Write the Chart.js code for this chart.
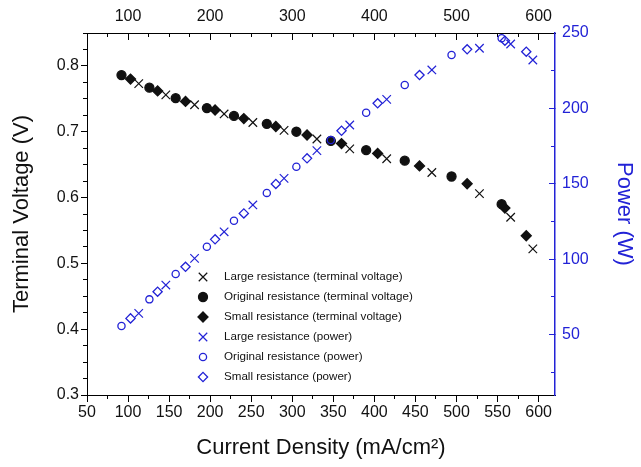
<!DOCTYPE html>
<html>
<head>
<meta charset="utf-8">
<script src="https://cdn.jsdelivr.net/npm/chart.js@4.4.1/dist/chart.umd.min.js"></script>
<style>
  html, body { margin: 0; padding: 0; background: #fff; }
  #wrap { width: 641px; height: 467px; }
</style>
</head>
<body>
<div id="wrap"><canvas id="fuelCellChart" width="641" height="467"></canvas></div>
<script>
// current density (mA/cm2), terminal voltage (V) and power (W) per load setting
const largeCurrent = [113, 146, 181, 217, 252, 290, 330, 370, 415, 470, 528, 566, 593];
const largeVoltage = [0.773, 0.756, 0.741, 0.727, 0.714, 0.702, 0.689, 0.674, 0.659, 0.638, 0.606, 0.570, 0.522];
const largePower = [64.1, 82.9, 100.6, 118.2, 136.0, 153.6, 172.0, 189.0, 206.0, 225.5, 239.9, 242.7, 232.1];

const originalCurrent = [92, 126, 158, 196, 229, 269, 305, 347, 390, 437, 494, 555];
const originalVoltage = [0.786, 0.767, 0.751, 0.736, 0.724, 0.712, 0.700, 0.686, 0.672, 0.656, 0.632, 0.590];
const originalPower = [55.7, 73.4, 90.2, 108.3, 125.5, 144.0, 161.3, 179.0, 197.1, 215.5, 235.4, 246.5];

const smallCurrent = [103, 136, 170, 206, 241, 280, 318, 360, 404, 455, 513, 559, 585];
const smallVoltage = [0.780, 0.762, 0.746, 0.733, 0.720, 0.708, 0.695, 0.682, 0.667, 0.648, 0.621, 0.584, 0.542];
const smallPower = [60.8, 78.5, 95.0, 113.2, 130.4, 149.9, 166.9, 185.2, 203.4, 222.1, 239.2, 244.9, 237.6];

const BLACK = '#111111';
const BLUE = '#2222d6';
const FONT = '"Liberation Sans", Arial, Helvetica, sans-serif';

function toPoints(xs, ys) {
    return xs.map((x, i) => ({x: x, y: ys[i]}));
}

function series(label, xs, ys, axis, style, color, filled, radius, order) {
    return {
        label: label,
        data: toPoints(xs, ys),
        yAxisID: axis,
        order: order,
        pointStyle: style,
        pointRadius: radius,
        pointHoverRadius: radius,
        pointBorderColor: color,
        pointBackgroundColor: filled ? color : 'rgba(0,0,0,0)',
        pointBorderWidth: style === 'crossRot' ? 1.2 : 1.3
    };
}

// minor tick marks: a second scale with no labels and zero size
function minorAxis(position, min, max, step, color, tickLength) {
    const horizontal = position === 'top' || position === 'bottom';
    return {
        type: 'linear', position: position, min: min, max: max, weight: 0,
        ticks: {display: false, stepSize: step, includeBounds: false},
        grid: {drawOnChartArea: false, color: color, tickLength: tickLength},
        border: {display: false},
        afterFit: scale => { if (horizontal) scale.height = 0; else scale.width = 0; }
    };
}

function tickFont() {
    return {family: FONT, size: 16};
}

function titleFont() {
    return {family: FONT, size: 22};
}

const insideLegend = {
    id: 'insideLegend',
    afterDraw(chart) {
        const {ctx, chartArea} = chart;
        const x0 = chartArea.left + 116;
        const y0 = chartArea.top + 244;
        ctx.save();
        ctx.font = '11.6px ' + FONT;
        ctx.textBaseline = 'middle';
        chart.data.datasets.forEach((ds, i) => {
            const y = y0 + i * 20;
            ctx.fillStyle = ds.pointBackgroundColor;
            ctx.strokeStyle = ds.pointBorderColor;
            ctx.lineWidth = ds.pointBorderWidth;
            Chart.helpers.drawPoint(ctx, {pointStyle: ds.pointStyle, radius: ds.pointRadius, borderWidth: ds.pointBorderWidth, rotation: 0}, x0, y);
            ctx.fillStyle = BLACK;
            ctx.fillText(ds.label, x0 + 21, y);
        });
        ctx.restore();
    }
};

const ctx = document.getElementById('fuelCellChart').getContext('2d');
new Chart(ctx, {
    type: 'scatter',
    data: {
        datasets: [
            series('Large resistance (terminal voltage)', largeCurrent, largeVoltage, 'y', 'crossRot', BLACK, false, 6, 1),
            series('Original resistance (terminal voltage)', originalCurrent, originalVoltage, 'y', 'circle', BLACK, true, 4.5, 1),
            series('Small resistance (terminal voltage)', smallCurrent, smallVoltage, 'y', 'rectRot', BLACK, true, 5, 1),
            series('Large resistance (power)', largeCurrent, largePower, 'y2', 'crossRot', BLUE, false, 6, 0),
            series('Original resistance (power)', originalCurrent, originalPower, 'y2', 'circle', BLUE, false, 3.6, 0),
            series('Small resistance (power)', smallCurrent, smallPower, 'y2', 'rectRot', BLUE, false, 4.6, 0)
        ]
    },
    options: {
        responsive: false,
        animation: false,
        layout: {padding: 0},
        plugins: {
            legend: {display: false},
            tooltip: {enabled: false}
        },
        scales: {
            x: {
                type: 'linear', position: 'bottom', min: 50, max: 620, weight: 1,
                ticks: {stepSize: 50, includeBounds: false, autoSkip: false, maxRotation: 0, color: BLACK, font: tickFont(), padding: 1},
                grid: {drawOnChartArea: false, color: '#000', tickLength: 7},
                border: {color: '#000', width: 1},
                title: {display: true, text: 'Current Density (mA/cm²)', color: BLACK, font: titleFont(), padding: {top: 0, bottom: 6}},
                afterFit: scale => { scale.height = 72; }
            },
            xMinor: minorAxis('bottom', 50, 620, 25, '#000', 4),
            xTop: {
                type: 'linear', position: 'top', min: 50, max: 620, weight: 1,
                ticks: {stepSize: 100, includeBounds: false, autoSkip: false, maxRotation: 0, color: BLACK, font: tickFont(), padding: 14},
                grid: {drawOnChartArea: false, color: '#000', tickLength: -7},
                border: {color: '#000', width: 1},
                afterFit: scale => { scale.height = 33; }
            },
            xTopMinor: minorAxis('top', 50, 620, 25, '#000', -4),
            y: {
                type: 'linear', position: 'left', min: 0.3, max: 0.85, weight: 1,
                ticks: {stepSize: 0.1, includeBounds: false, color: BLACK, font: tickFont(), padding: 2, callback: v => v.toFixed(1)},
                grid: {drawOnChartArea: false, color: '#000', tickLength: 6},
                border: {color: '#000', width: 1},
                title: {display: true, text: 'Terminal Voltage (V)', color: BLACK, font: titleFont(), padding: {top: 9, bottom: 0}},
                afterFit: scale => { scale.width = 87; }
            },
            yMinor: minorAxis('left', 0.3, 0.85, 0.025, '#000', 4),
            y2: {
                type: 'linear', position: 'right', min: 10, max: 250, weight: 1,
                ticks: {stepSize: 50, includeBounds: false, color: BLUE, font: tickFont(), padding: 13},
                grid: {drawOnChartArea: false, color: BLUE, tickLength: -6},
                border: {color: BLUE, width: 1.5},
                title: {display: true, text: 'Power (W)', color: BLUE, font: titleFont(), padding: {top: 4, bottom: 0}},
                afterFit: scale => { scale.width = 86; }
            },
            y2Minor: minorAxis('right', 10, 250, 25, BLUE, -4)
        }
    },
    plugins: [insideLegend]
});
</script>
</body>
</html>
